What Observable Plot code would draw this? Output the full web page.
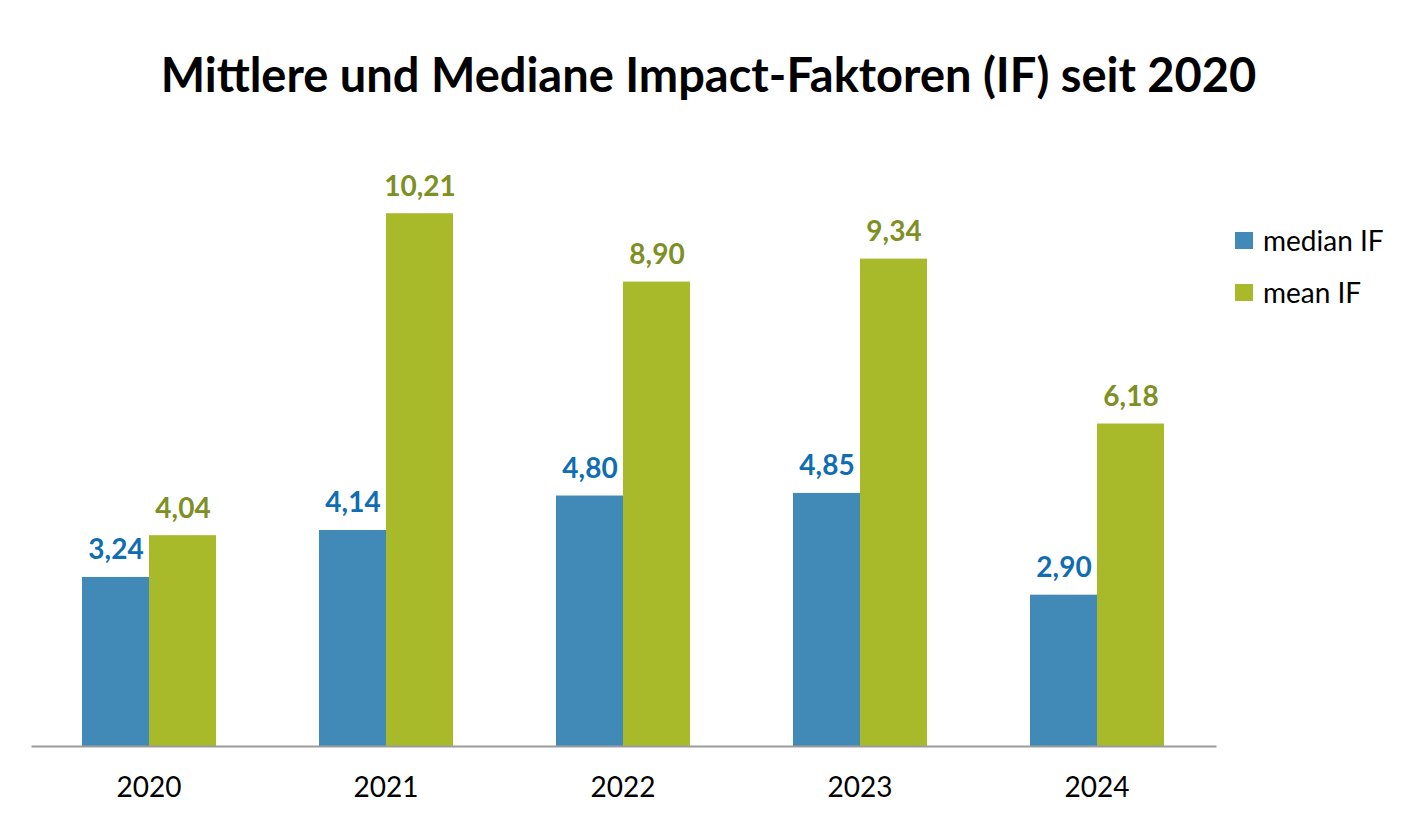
<!DOCTYPE html>
<html><head><meta charset="utf-8">
<script src="https://cdn.jsdelivr.net/npm/d3@7"></script>
<script src="https://cdn.jsdelivr.net/npm/@observablehq/plot@0.6"></script>
<style>
body{margin:0;background:#fff;font-family:Lato,"Open Sans",sans-serif;}
#wrap{position:relative;width:1417px;height:823px;overflow:hidden;}
#title{position:absolute;left:0;top:0;width:1417px;height:140px;text-align:center;font-weight:bold;font-size:47px;line-height:148px;color:#000;}
#chart{position:absolute;left:0;top:140px;}
.lg{position:absolute;left:1235px;font-size:28px;color:#000;display:flex;align-items:center;height:30px;}
.lg span.sw{display:inline-block;width:18px;height:17px;margin-right:10px;}
</style></head><body>
<div id="wrap">
<div id="title">Mittlere und Mediane Impact-Faktoren (IF) seit 2020</div>
<div id="chart"></div>
<div class="lg" style="top:225px"><span class="sw" style="background:#4189b6"></span>median IF</div>
<div class="lg" style="top:277px"><span class="sw" style="background:#a8b92a"></span>mean IF</div>
</div>
<script>
const years = ["2020", "2021", "2022", "2023", "2024"];
const medianIF = [3.24, 4.14, 4.80, 4.85, 2.90];
const meanIF = [4.04, 10.21, 8.90, 9.34, 6.18];
const seriesNames = ["median IF", "mean IF"];
const seriesColors = ["#4189b6", "#a8b92a"];
const labelColors = ["#0f6db3", "#7e8f24"];

const data = years.flatMap((y, i) => [
  {year: y, series: seriesNames[0], value: medianIF[i]},
  {year: y, series: seriesNames[1], value: meanIF[i]}
]);
const fmt = v => v.toFixed(2).replace(".", ",");

const plot = Plot.plot({
  width: 1417,
  height: 683,
  marginLeft: 30,
  marginRight: 202,
  marginTop: 32,
  marginBottom: 77,
  style: {fontFamily: "Lato, 'Open Sans', sans-serif", background: "transparent"},
  fx: {domain: years, paddingInner: 0.43, paddingOuter: 0.215, label: null, axis: null},
  x: {domain: seriesNames, padding: 0, axis: null},
  y: {domain: [0, 11], axis: null},
  color: {domain: seriesNames, range: seriesColors},
  marks: [
    Plot.barY(data, {fx: "year", x: "series", y: "value", fill: "series"}),
    Plot.text(data, {filter: d => d.series === seriesNames[0], fx: "year", x: "series", y: "value", text: d => fmt(d.value), fill: labelColors[0], lineAnchor: "bottom", dy: -18, fontSize: 28, fontWeight: "bold"}),
    Plot.text(data, {filter: d => d.series === seriesNames[1], fx: "year", x: "series", y: "value", text: d => fmt(d.value), fill: labelColors[1], lineAnchor: "bottom", dy: -18, fontSize: 28, fontWeight: "bold"}),
    Plot.axisFx({anchor: "bottom", tickSize: 0, tickPadding: 31, fontSize: 28, label: null, fill: "#000"}),
    Plot.frame({anchor: "bottom", facet: "super", stroke: "#9c9c9c", strokeWidth: 2, insetLeft: -49, insetRight: -51})
  ]
});
document.getElementById("chart").appendChild(plot);
</script>
</body></html>
